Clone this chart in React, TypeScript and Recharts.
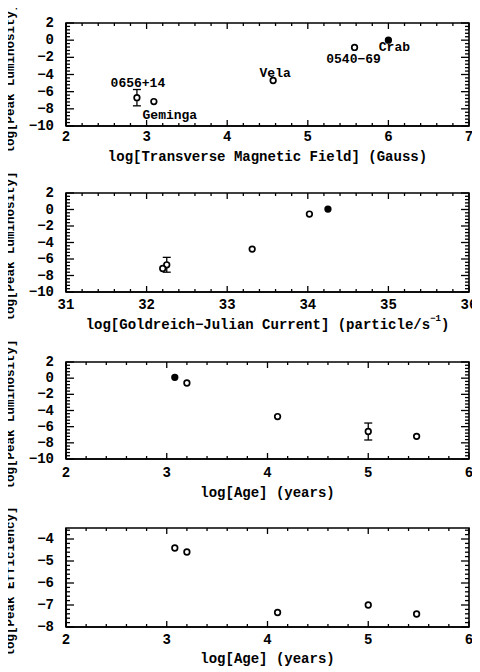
import { ErrorBar, ReferenceArea, Scatter, ScatterChart, XAxis, YAxis } from "recharts";

const FONT = "'Liberation Mono', 'DejaVu Sans Mono', monospace";

const pulsars = ["Crab", "0540−69", "Vela", "0656+14", "Geminga"];

// top panel: transverse magnetic field
const logBt = [6.0, 5.58, 4.57, 2.88, 3.09];
const lumBt = [0.0, -0.85, -4.7, -6.7, -7.15];
const errBt = [null, null, null, 0.95, null];

// second panel: Goldreich-Julian current
const logGJ = [34.25, 34.02, 33.31, 32.25, 32.2];
const lumGJ = [0.05, -0.55, -4.8, -6.7, -7.15];
const errGJ = [null, null, null, 0.9, null];

// third + fourth panels: age
const logAge = [3.08, 3.2, 4.1, 5.0, 5.48];
const lumAge = [0.1, -0.6, -4.75, -6.6, -7.2];
const errAge = [null, null, null, 1.05, null];
const effAge = [-4.41, -4.59, -7.34, -7.0, -7.41];

const xTicksBt = [2, 3, 4, 5, 6, 7];
const xTicksGJ = [31, 32, 33, 34, 35, 36];
const xTicksAge = [2, 3, 4, 5, 6];
const yTicksLum = [-10, -8, -6, -4, -2, 0, 2];
const yTicksEff = [-8, -7, -6, -5, -4];

// annotation offsets in px from the marker (top panel only)
const labelOffsets = [
  { dx: 6, dy: 11 },
  { dx: -1, dy: 16 },
  { dx: 2, dy: -4 },
  { dx: 1, dy: -11 },
  { dx: 16, dy: 17 },
];

const W = 480;
const LEFT = 66;
const RIGHT = 11;

const steps = (a: number, b: number, s: number) => {
  const out: number[] = [];
  for (let v = a; v <= b + 1e-9; v += s) out.push(Math.round(v * 1000) / 1000);
  return out;
};

const build = (xs: number[], ys: number[], errs: (number | null)[]) =>
  pulsars.map((name, i) => ({ name, i, x: xs[i], y: ys[i], err: errs[i] }));

const fmt = (v: number) => (v < 0 ? "\u2212" + Math.abs(v) : String(v));
const isMajor = (v: number, major: number[]) => major.some((m) => Math.abs(m - v) < 1e-6);

// bottom tick, its twin on the top edge, and the label
function XTick(props: any) {
  const { x, y, payload, major, labelDy, plotH } = props;
  const v = payload.value;
  const len = isMajor(v, major) ? 6 : 3;
  const top = y - plotH;
  return (
    <g>
      <line x1={x} x2={x} y1={y} y2={y - len} stroke="#000" strokeWidth={1.3} />
      <line x1={x} x2={x} y1={top} y2={top + len} stroke="#000" strokeWidth={1.3} />
      {len > 3 && (
        <text x={x} y={y + labelDy} textAnchor="middle" dominantBaseline="central" fontFamily={FONT} fontWeight="bold" fontSize={14} fill="#000">
          {fmt(v)}
        </text>
      )}
    </g>
  );
}

// left tick, its twin on the right edge, and the label
function YTick(props: any) {
  const { x, y, payload, major, plotW } = props;
  const v = payload.value;
  const len = isMajor(v, major) ? 8 : 4;
  const right = x + plotW;
  return (
    <g>
      <line x1={x} x2={x + len} y1={y} y2={y} stroke="#000" strokeWidth={1.3} />
      <line x1={right} x2={right - len} y1={y} y2={y} stroke="#000" strokeWidth={1.3} />
      {len > 4 && (
        <text x={x - 12} y={y} textAnchor="end" dominantBaseline="central" fontFamily={FONT} fontWeight="bold" fontSize={14} fill="#000">
          {fmt(v)}
        </text>
      )}
    </g>
  );
}

function Marker(props: any) {
  const { cx, cy, payload, filled, annotate } = props;
  const off = labelOffsets[payload.i];
  return (
    <g>
      <circle cx={cx} cy={cy} r={2.8} fill={filled && payload.i === 0 ? "#000" : "#fff"} stroke="#000" strokeWidth={1.7} />
      {annotate && (
        <text x={cx + off.dx} y={cy + off.dy} textAnchor="middle" fontFamily={FONT} fontWeight="bold" fontSize={13} fill="#000">
          {payload.name}
        </text>
      )}
    </g>
  );
}

interface PanelProps {
  height: number;
  marginTop: number;
  axisH: number;
  xDomain: [number, number];
  xMajor: number[];
  xMinor: number;
  yDomain: [number, number];
  yMajor: number[];
  yMinor: number;
  xTitle: any;
  yTitle: string;
  tickDy: number;
  titleDy: number;
  data: any[];
  annotate?: boolean;
  filled?: boolean;
}

function Panel(p: PanelProps) {
  const xt = steps(p.xDomain[0], p.xDomain[1], p.xMinor);
  const yt = steps(p.yDomain[0], p.yDomain[1], p.yMinor);
  const plotH = p.height - p.marginTop - p.axisH;
  const plotW = W - LEFT - RIGHT;
  const axisLine = { stroke: "#000", strokeWidth: 1.6 };
  return (
    <ScatterChart width={W} height={p.height} margin={{ top: p.marginTop, right: RIGHT, bottom: 0, left: 0 }}>
      <XAxis
        type="number"
        dataKey="x"
        domain={p.xDomain}
        ticks={xt}
        interval={0}
        height={p.axisH}
        tickSize={0}
        tickMargin={0}
        tickLine={false}
        axisLine={axisLine}
        tick={<XTick major={p.xMajor} labelDy={p.tickDy} plotH={plotH} />}
        label={{
          content: ({ viewBox }: any) => (
            <text
              x={viewBox.x + viewBox.width / 2}
              y={viewBox.y + p.titleDy}
              textAnchor="middle"
              dominantBaseline="central"
              fontFamily={FONT}
              fontWeight="bold"
              fontSize={14}
              fill="#000"
            >
              {p.xTitle}
            </text>
          ),
        }}
      />
      <YAxis
        type="number"
        dataKey="y"
        domain={p.yDomain}
        ticks={yt}
        interval={0}
        width={LEFT}
        tickSize={0}
        tickMargin={0}
        tickLine={false}
        axisLine={axisLine}
        tick={<YTick major={p.yMajor} plotW={plotW} />}
        label={{
          content: ({ viewBox }: any) => {
            const cy = viewBox.y + viewBox.height / 2 + 4;
            return (
              <text
                x={11}
                y={cy}
                transform={`rotate(-90, 11, ${cy})`}
                textAnchor="middle"
                dominantBaseline="central"
                fontFamily={FONT}
                fontWeight="bold"
                fontSize={12.5}
                fill="#000"
              >
                {p.yTitle}
              </text>
            );
          },
        }}
      />
      <ReferenceArea
        x1={p.xDomain[0]}
        x2={p.xDomain[1]}
        y1={p.yDomain[0]}
        y2={p.yDomain[1]}
        fill="none"
        stroke="#000"
        strokeWidth={1.6}
        ifOverflow="visible"
      />
      <Scatter data={p.data} isAnimationActive={false} shape={<Marker annotate={p.annotate} filled={p.filled} />}>
        <ErrorBar dataKey="err" direction="y" width={4} stroke="#000" strokeWidth={1.3} />
      </Scatter>
    </ScatterChart>
  );
}

export default function App() {
  return (
    <div style={{ margin: "-8px 0 0 -8px", width: W, background: "#fff", display: "flex", flexDirection: "column" }}>
      <Panel
        height={170}
        marginTop={23}
        axisH={44}
        xDomain={[2, 7]}
        xMajor={xTicksBt}
        xMinor={0.2}
        yDomain={[-10, 2]}
        yMajor={yTicksLum}
        yMinor={0.4}
        xTitle="log[Transverse Magnetic Field] (Gauss)"
        yTitle="log[Peak Luminosity]"
        tickDy={11}
        titleDy={31}
        data={build(logBt, lumBt, errBt)}
        annotate
        filled
      />
      <Panel
        height={166}
        marginTop={23}
        axisH={44}
        xDomain={[31, 36]}
        xMajor={xTicksGJ}
        xMinor={0.2}
        yDomain={[-10, 2]}
        yMajor={yTicksLum}
        yMinor={0.4}
        xTitle={
          <>
            <tspan>log[Goldreich{"\u2212"}Julian Current] (particle/s</tspan>
            <tspan dy={-6} fontSize={9}>
              {"\u2212"}1
            </tspan>
            <tspan dy={6}>)</tspan>
          </>
        }
        yTitle="log[Peak Luminosity]"
        tickDy={13}
        titleDy={33}
        data={build(logGJ, lumGJ, errGJ)}
        filled
      />
      <Panel
        height={168}
        marginTop={26}
        axisH={45}
        xDomain={[2, 6]}
        xMajor={xTicksAge}
        xMinor={0.2}
        yDomain={[-10, 2]}
        yMajor={yTicksLum}
        yMinor={0.4}
        xTitle="log[Age] (years)"
        yTitle="log[Peak Luminosity]"
        tickDy={14}
        titleDy={34}
        data={build(logAge, lumAge, errAge)}
        filled
      />
      <Panel
        height={168}
        marginTop={24}
        axisH={45}
        xDomain={[2, 6]}
        xMajor={xTicksAge}
        xMinor={0.2}
        yDomain={[-8, -3.5]}
        yMajor={yTicksEff}
        yMinor={0.2}
        xTitle="log[Age] (years)"
        yTitle="log[Peak Efficiency]"
        tickDy={13}
        titleDy={32}
        data={build(logAge, effAge, [null, null, null, null, null])}
      />
    </div>
  );
}
